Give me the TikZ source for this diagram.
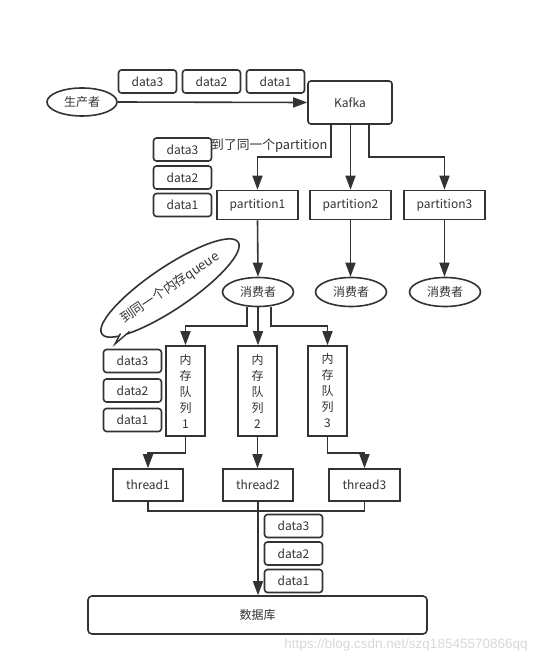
\documentclass[tikz,border=0pt]{standalone}
\usepackage{fontspec}
\setmainfont{Noto Sans CJK SC}
\newfontfamily\wmfont{Liberation Sans}
\usetikzlibrary{arrows.meta,shapes.geometric}
\definecolor{ink}{HTML}{333333}
\tikzset{
  base/.style={draw=ink, line width=1.6pt, text=ink, inner sep=0pt, font=\fontsize{12}{14}\selectfont},
  databox/.style={base, rounded corners=3pt, minimum width=58pt, minimum height=23pt},
  sqbox/.style={base, minimum height=29pt},
  ell/.style={base, ellipse, minimum width=71pt, minimum height=29pt},
  qbox/.style={base, minimum width=39pt, minimum height=90pt, align=center, font=\fontsize{12}{16}\selectfont},
  conn/.style={draw=ink, line width=1.6pt},
  arr/.style={conn, -{Triangle[length=14pt,width=10pt]}},
}
\begin{document}
\begin{tikzpicture}[x=1pt,y=-1pt]
\useasboundingbox (0,0) rectangle (559,663);
\fill[white] (0,0) rectangle (559,663);

% producer and kafka
\node[ell, minimum width=70pt, minimum height=28pt] (prod) at (82,102) {生产者};
\node[base, rounded corners=3pt, minimum width=84pt, minimum height=43pt] (kafka) at (350,102.5) {Kafka};
\draw[arr] (prod.east) -- (kafka.west);
\node[databox] (td3) at (147.5,81.5) {data3};
\node[databox] (td2) at (211.5,81.5) {data2};
\node[databox] (td1) at (275.5,81.5) {data1};

% partitions
\node[sqbox, minimum width=81pt] (p1) at (257.5,205) {partition1};
\node[sqbox, minimum width=81pt] (p2) at (350.5,205) {partition2};
\node[sqbox, minimum width=81pt] (p3) at (444.5,205) {partition3};
\coordinate (k1) at (257.5,157);
\coordinate (k3) at (444.5,157);
\node[text=ink, inner sep=0pt, font=\fontsize{12.8}{14}\selectfont, anchor=west] (samep) at (211,146) {到了同一个partition};
\draw[arr] ([xshift=-19pt]kafka.south) |- (k1) -- (p1.north);
\draw[arr] (kafka.south -| p2.north) -- (p2.north);
\draw[arr] ([xshift=19pt]kafka.south) |- (k3) -- (p3.north);
\node[databox] (ld3) at (182.5,149.5) {data3};
\node[databox] (ld2) at (182.5,177.5) {data2};
\node[databox] (ld1) at (182.5,205) {data1};

% consumers
\node[ell] (c1) at (258,292) {消费者};
\node[ell] (c2) at (351,292) {消费者};
\node[ell] (c3) at (445,292) {消费者};
\draw[arr] (p1.south) -- (c1.north);
\draw[arr] (p2.south) -- (p2.south |- c2.north);
\draw[arr] (p3.south) -- (p3.south |- c3.north);

% queues
\node[qbox] (q1) at (185.5,391) {内\\存\\队\\列\\1};
\node[qbox] (q2) at (257.5,391) {内\\存\\队\\列\\2};
\node[qbox] (q3) at (327.5,391) {内\\存\\队\\列\\3};
\coordinate (c1l) at (185.5,326);
\coordinate (c1r) at (327.5,326);
\draw[arr] ([xshift=-11pt]c1.south) |- (c1l) -- (q1.north);
\draw[arr] (c1.south) -- (c1.south |- q2.north);
\draw[arr] ([xshift=13pt]c1.south) |- (c1r) -- (q3.north);
\node[databox] (qd3) at (132.5,361) {data3};
\node[databox] (qd2) at (132.5,390.5) {data2};
\node[databox] (qd1) at (132.5,420) {data1};

% callout
\node[base, ellipse, rotate=34, minimum width=152pt, minimum height=42pt, font=\fontsize{13}{14}\selectfont] (callout) at (170,288) {到同一个内存queue};
\coordinate (ca) at (120.5,333.5);
\coordinate (cb) at (129.5,331.5);
\coordinate (ctip) at (115,344);
\fill[white] (ca) -- (ctip) -- (cb) -- cycle;
\draw[conn, line width=1.4pt, line join=miter] (ca) -- (ctip) -- (cb);

% threads
\node[sqbox, minimum width=70pt, minimum height=32pt] (t1) at (148,485) {thread1};
\node[sqbox, minimum width=70pt, minimum height=32pt] (t2) at (258,485) {thread2};
\node[sqbox, minimum width=71pt, minimum height=32pt] (t3) at (364.5,485) {thread3};
\coordinate (q1t) at (148,453);
\coordinate (q3t) at (364.5,453);
\draw[arr] (q1.south) |- (q1t) -- (t1.north);
\draw[arr] (q2.south) -- (q2.south |- t2.north);
\draw[arr] (q3.south) |- (q3t) -- (t3.north);

% database
\node[base, rounded corners=4pt, minimum width=339pt, minimum height=38pt] (db) at (257.5,615) {数据库};
\coordinate (mrg) at (258,511);
\draw[conn] (t1.south) |- (mrg) -| (t3.south);
\draw[arr] (t2.south) -- (t2.south |- db.north);
\node[databox] (bd3) at (293.5,526) {data3};
\node[databox] (bd2) at (293.5,553.5) {data2};
\node[databox] (bd1) at (293.5,581) {data1};

% watermark
\node[text=black!15, inner sep=0pt, font=\wmfont\fontsize{13.5}{15}\selectfont] (wm) at (406,645) {https://blog.csdn.net/szq18545570866qq};
\end{tikzpicture}
\end{document}
